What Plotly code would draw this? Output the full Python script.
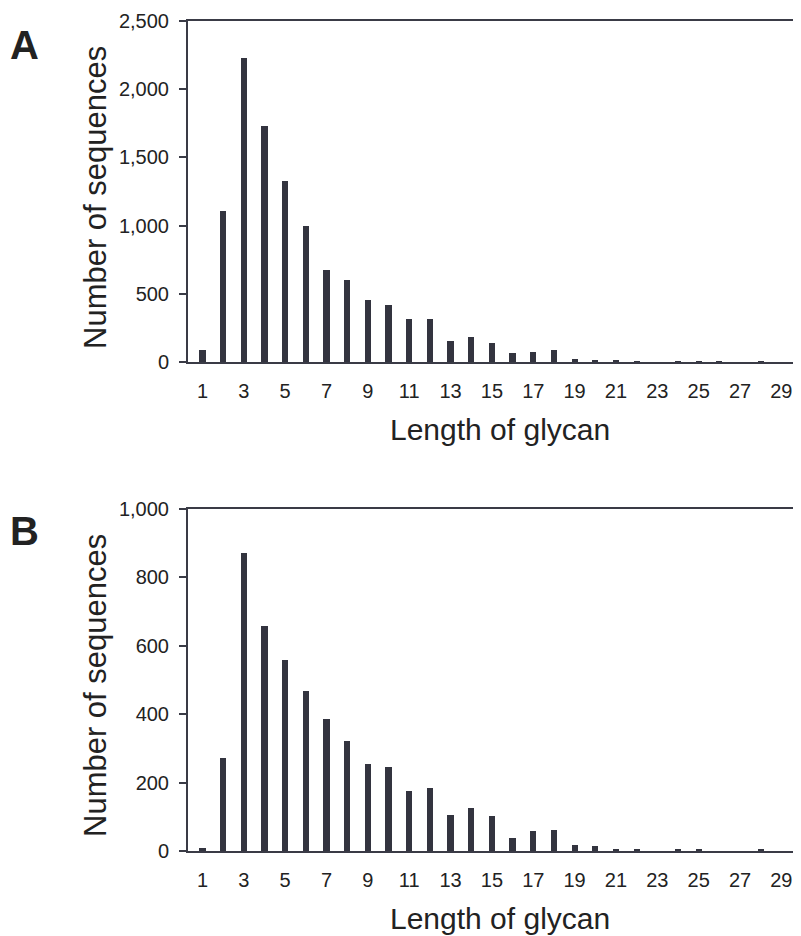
import plotly.graph_objects as go

lengths = list(range(1, 31))
counts_a = [90, 1106, 2226, 1732, 1326, 998, 678, 604, 453, 416,
            318, 318, 154, 183, 139, 68, 76, 90, 24, 18,
            8, 6, 0, 5, 5, 5, 0, 5, 0, 5]
counts_b = [10, 271, 870, 659, 558, 469, 387, 321, 253, 245,
            175, 184, 106, 126, 101, 38, 58, 62, 18, 15,
            6, 5, 0, 3, 3, 0, 0, 3, 0, 3]
x_ticks = list(range(1, 31, 2))
ya_ticks = [0, 500, 1000, 1500, 2000, 2500]
yb_ticks = [0, 200, 400, 600, 800, 1000]

BAR = "#33343f"
LINE = "#3a3b46"
TXT = "#222222"
FONT = "Liberation Sans, Arial, sans-serif"

OFF = 8  # page body margin
W, H = 801 - OFF, 936 - OFF
left_px = 188 - OFF
a_top, a_bot = 21 - OFF, 362 - OFF
b_top, b_bot = 509 - OFF, 851 - OFF

def yd(top, bot):
    return [1 - bot / H, 1 - top / H]

fig = go.Figure()
fig.add_trace(go.Bar(x=lengths, y=counts_a, marker_color=BAR, width=0.3,
                     xaxis="x", yaxis="y", showlegend=False))
fig.add_trace(go.Bar(x=lengths, y=counts_b, marker_color=BAR, width=0.3,
                     xaxis="x2", yaxis="y2", showlegend=False))

xcommon = dict(range=[0.3, 29.95], tickvals=x_ticks, ticktext=[str(v) for v in x_ticks],
               showline=True, linecolor=LINE, linewidth=2, mirror=True,
               ticks="", showgrid=False, zeroline=False, automargin=False,
               tickfont=dict(family=FONT, size=20, color=TXT),
               ticklabelstandoff=10, domain=[left_px / W, 1])
ycommon = dict(showline=True, linecolor=LINE, linewidth=2, ticks="outside",
               ticklen=7, tickwidth=2, tickcolor=LINE, showgrid=False,
               zeroline=False, automargin=False,
               tickfont=dict(family=FONT, size=20, color=TXT),
               tickformat=",", ticklabelstandoff=6)

fig.update_layout(
    template="none",
    width=W, height=H, margin=dict(l=0, r=0, t=0, b=0, autoexpand=False),
    paper_bgcolor="white", plot_bgcolor="white", bargap=0,
    xaxis=dict(**xcommon, anchor="y"),
    yaxis=dict(**ycommon, range=[0, 2500], tickvals=ya_ticks, domain=yd(a_top, a_bot),
               anchor="x"),
    xaxis2=dict(**xcommon, anchor="y2"),
    yaxis2=dict(**ycommon, range=[0, 1000], tickvals=yb_ticks, domain=yd(b_top, b_bot),
                anchor="x2"),
)

ann = []
for lab, yc in [("A", 45), ("B", 531)]:
    ann.append(dict(text=f"<b>{lab}</b>", x=(24 - OFF) / W, y=1 - (yc - OFF) / H,
                    xref="paper", yref="paper",
                    showarrow=False, font=dict(family=FONT, size=40, color=TXT),
                    xanchor="center", yanchor="middle"))
for yc in [198, 686]:
    ann.append(dict(text="Number of sequences", x=(95 - OFF) / W, y=1 - (yc - OFF) / H,
                    xref="paper", yref="paper", showarrow=False, textangle=-90,
                    font=dict(family=FONT, size=31, color=TXT),
                    xanchor="center", yanchor="middle"))
for yc in [430, 918]:
    ann.append(dict(text="Length of glycan", x=(500 - OFF) / W, y=1 - (yc - OFF) / H,
                    xref="paper", yref="paper", showarrow=False,
                    font=dict(family=FONT, size=30, color=TXT),
                    xanchor="center", yanchor="middle"))
fig.update_layout(annotations=ann)

fig.write_html("out.html")
